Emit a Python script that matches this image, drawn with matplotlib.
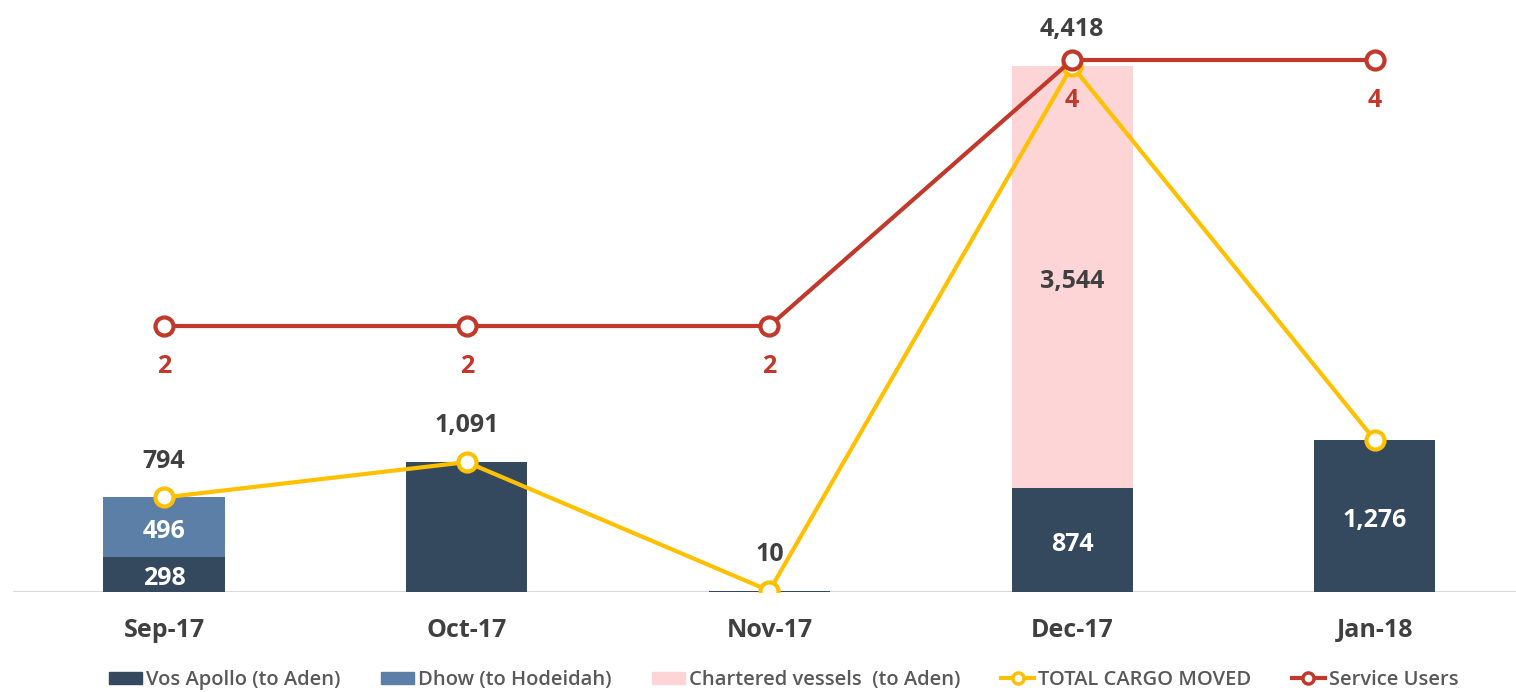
import matplotlib.pyplot as plt
from matplotlib.lines import Line2D
from matplotlib.patches import Patch
import numpy as np

plt.rcParams["font.family"] = ["Open Sans", "DejaVu Sans"]

# data
months = ["Sep-17", "Oct-17", "Nov-17", "Dec-17", "Jan-18"]
vos_apollo = [298, 1091, 10, 874, 1276]
dhow = [496, 0, 0, 0, 0]
chartered = [0, 0, 0, 3544, 0]
total_cargo = [794, 1091, 10, 4418, 1276]
service_users = [2, 2, 2, 4, 4]

# which labels are shown in the original
vos_labels = ["298", "", "", "874", "1,276"]
dhow_labels = ["496", "", "", "", ""]
chart_labels = ["", "", "", "3,544", ""]
total_labels = ["794", "1,091", "10", "4,418", ""]

c_vos = "#34495e"
c_dhow = "#5b7fa6"
c_chart = "#fdd5d6"
c_total = "#ffc000"
c_users = "#c0392b"
c_text = "#404040"

fig = plt.figure(figsize=(15.16, 6.92), dpi=100)
ax = fig.add_axes([12.6 / 1516, 100 / 692, 1513.6 / 1516, 582 / 692])
x = np.arange(len(months))
w = 0.4

ax.bar(x, vos_apollo, w, color=c_vos, zorder=2)
ax.bar(x, dhow, w, bottom=vos_apollo, color=c_dhow, zorder=2)
bottom2 = np.array(vos_apollo) + np.array(dhow)
ax.bar(x, chartered, w, bottom=bottom2, color=c_chart, zorder=2)

lab = dict(ha="center", va="center", fontsize=18, fontweight="bold",
           textcoords="offset points", zorder=5)
for i in range(len(months)):
    if vos_labels[i]:
        ax.annotate(vos_labels[i], (x[i], vos_apollo[i] / 2), xytext=(0, -3),
                    color="white", **lab)
    if dhow_labels[i]:
        ax.annotate(dhow_labels[i], (x[i], vos_apollo[i] + dhow[i] / 2), xytext=(0, -3),
                    color="white", **lab)
    if chart_labels[i]:
        ax.annotate(chart_labels[i], (x[i], bottom2[i] + chartered[i] / 2), xytext=(0, -3),
                    color=c_text, **lab)

ax.plot(x, total_cargo, color=c_total, lw=3, marker="o", ms=13, mfc="white",
        mec=c_total, mew=3, zorder=4)
for i in range(len(months)):
    if total_labels[i]:
        ax.annotate(total_labels[i], (x[i], total_cargo[i]), xytext=(0, 26),
                    color=c_text, **lab)

ax.axhline(0, color="#d9d9d9", lw=1.5, zorder=1)
ax.set_xlim(-0.5, 4.5)
ax.set_ylim(0, 4888)
ax.set_yticks([])
ax.set_xticks(x)
ax.set_xticklabels(months, fontsize=18, fontweight="bold", color=c_text)
ax.tick_params(axis="x", length=0, pad=19)
for s in ax.spines.values():
    s.set_visible(False)

ax2 = ax.twinx()
ax2.plot(x, service_users, color=c_users, lw=3, marker="o", ms=13, mfc="white",
         mec=c_users, mew=3, zorder=4)
for i in range(len(months)):
    ax2.annotate(str(service_users[i]), (x[i], service_users[i]), xytext=(0, -29),
                 color=c_users, **lab)
ax2.set_ylim(0, 4.376)
ax2.set_yticks([])
for s in ax2.spines.values():
    s.set_visible(False)

handles = [
    Patch(color=c_vos),
    Patch(color=c_dhow),
    Patch(color=c_chart),
    Line2D([], [], color=c_total, lw=3, marker="o", ms=8, mfc="white", mec=c_total, mew=2.5),
    Line2D([], [], color=c_users, lw=3, marker="o", ms=8, mfc="white", mec=c_users, mew=2.5),
]
names = ["Vos Apollo (to Aden)", "Dhow (to Hodeidah)", "Chartered vessels  (to Aden)",
         "TOTAL CARGO MOVED", "Service Users"]
fig.legend(handles, names, loc="center", bbox_to_anchor=(784 / 1516, 12 / 692), ncol=5,
           frameon=False, prop={"size": 14.5, "weight": "semibold"},
           labelcolor="#595959", handlelength=1.65, handletextpad=0.2,
           columnspacing=2.0, handleheight=0.55)

fig.savefig("out.png", dpi=100)
